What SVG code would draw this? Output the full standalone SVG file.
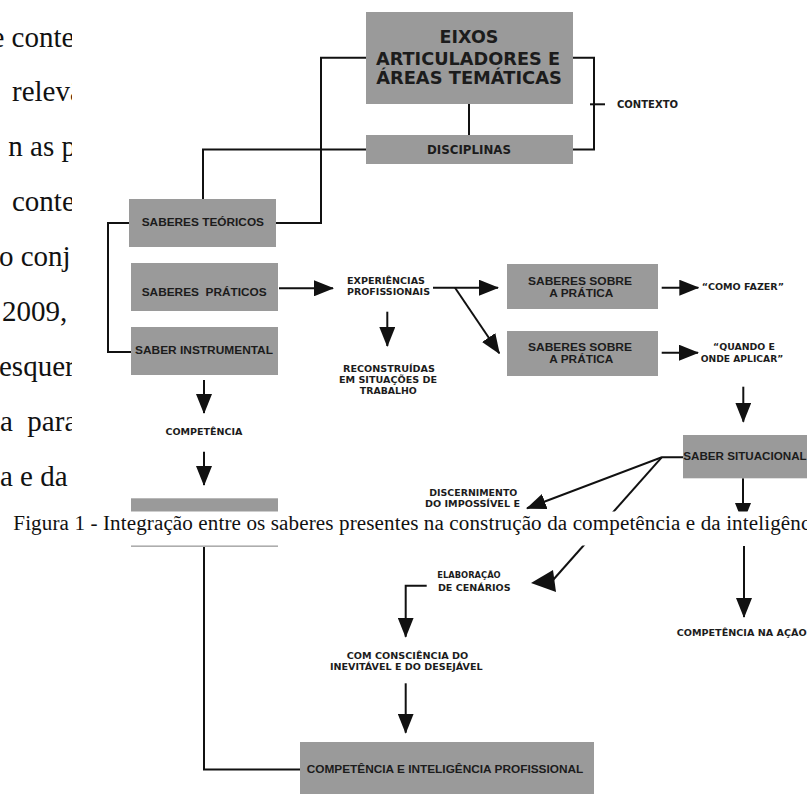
<svg xmlns="http://www.w3.org/2000/svg" width="807" height="794" viewBox="0 0 807 794">
<defs>
<style>
.box{fill:#9a9a9a;}
.ln{stroke:#111;stroke-width:2;fill:none;}
.bt{font-family:"Liberation Sans",Arial,sans-serif;font-weight:bold;fill:#1c1c1c;font-size:11.6px;}
.lb{font-family:"DejaVu Sans",Verdana,sans-serif;font-weight:bold;fill:#1c1c1c;}
.body{font-family:"Liberation Serif","Times New Roman",serif;fill:#111;font-size:29px;}
.cap{font-family:"Liberation Serif","Times New Roman",serif;fill:#111;font-size:21.1px;}
.c{text-anchor:middle;}
</style>
<marker id="ah" markerUnits="userSpaceOnUse" viewBox="0 0 20 16" markerWidth="20" markerHeight="16" refX="19" refY="8" orient="auto">
<path d="M0,0 L20,8 L0,16 z" fill="#111"/>
</marker>
<clipPath id="colclip"><rect x="0" y="0" width="72" height="794"/></clipPath>
</defs>
<rect width="807" height="794" fill="#fff"/>

<g id="bodytext" clip-path="url(#colclip)" class="body">
<text x="-8.5" y="46.5">e conte</text>
<text x="12" y="101.4">relevâ</text>
<text x="8.3" y="156.3">n as pr</text>
<text x="12" y="211.2">conten</text>
<text x="-1" y="266.1">o conj</text>
<text x="2" y="321">2009,</text>
<text x="-1" y="375.9">esquer</text>
<text x="0" y="430.8" xml:space="preserve">a  para</text>
<text x="0" y="485.7">a e da</text>
</g>

<g id="connectors">
<path class="ln" d="M366,57.7 H321 V223 H276"/>
<path class="ln" d="M366,149.5 H203 V199"/>
<path class="ln" d="M469,104 V135"/>
<path class="ln" d="M573,57.7 H594 V149.5 H573"/>
<path class="ln" d="M590,104.3 H605"/>
<path class="ln" d="M129,223 H108 V352 H131"/>
<path class="ln" d="M279,288.3 H333" marker-end="url(#ah)"/>
<path class="ln" d="M387.3,311.7 V346" marker-end="url(#ah)"/>
<path class="ln" d="M433,287.7 H498" marker-end="url(#ah)"/>
<path class="ln" d="M455,287.7 L499.3,353.3" marker-end="url(#ah)"/>
<path class="ln" d="M661.7,287.7 H698.3" marker-end="url(#ah)"/>
<path class="ln" d="M661.7,352.7 H698" marker-end="url(#ah)"/>
<path class="ln" d="M743.3,386.7 V421.7" marker-end="url(#ah)"/>
<path class="ln" d="M683,457.3 H661.7 L527,508.3" marker-end="url(#ah)"/>
<path class="ln" d="M661.7,457.3 L553,580"/>
<polygon points="531,583 553,570 556,592" fill="#111"/>
<path class="ln" d="M743,478.3 V522" marker-end="url(#ah)"/>
<path class="ln" d="M744,546 V617" marker-end="url(#ah)"/>
<path class="ln" d="M204,380 V413" marker-end="url(#ah)"/>
<path class="ln" d="M204,451.7 V485" marker-end="url(#ah)"/>
<path class="ln" d="M204,547 V769.5 H300"/>
<path class="ln" d="M426.7,585.7 H405.7 V636.7" marker-end="url(#ah)"/>
<path class="ln" d="M405.7,683.3 V732.7" marker-end="url(#ah)"/>
</g>

<g id="eixos">
<rect class="box" x="366" y="12" width="207" height="92"/>
<text class="lb c" x="469" y="42.7" font-size="17.5">EIXOS</text>
<text class="lb c" x="468" y="65" font-size="17.5" textLength="184" lengthAdjust="spacingAndGlyphs">ARTICULADORES E</text>
<text class="lb c" x="469" y="84.3" font-size="17.5" textLength="185.7" lengthAdjust="spacingAndGlyphs">ÁREAS TEMÁTICAS</text>
</g>
<g id="disciplinas">
<rect class="box" x="366" y="135" width="207" height="29"/>
<text class="lb c" x="469" y="153.5" font-size="11.5" textLength="84" lengthAdjust="spacingAndGlyphs">DISCIPLINAS</text>
</g>
<g id="contexto">
<text class="lb" x="617" y="108" font-size="10" textLength="61" lengthAdjust="spacingAndGlyphs">CONTEXTO</text>
</g>
<g id="saberes-teoricos">
<rect class="box" x="129" y="199" width="147" height="48"/>
<text class="bt" x="141.7" y="226" textLength="122.3" lengthAdjust="spacingAndGlyphs">SABERES TEÓRICOS</text>
</g>
<g id="saberes-praticos">
<rect class="box" x="131" y="263" width="147" height="48"/>
<text class="bt" x="141.7" y="295.5" textLength="125" lengthAdjust="spacingAndGlyphs" xml:space="preserve">SABERES  PRÁTICOS</text>
</g>
<g id="saber-instrumental">
<rect class="box" x="131" y="327" width="147" height="48"/>
<text class="bt" x="135" y="354" textLength="138" lengthAdjust="spacingAndGlyphs">SABER INSTRUMENTAL</text>
</g>
<g id="experiencias">
<text class="lb c" x="386" y="283.5" font-size="8.5" textLength="78" lengthAdjust="spacingAndGlyphs">EXPERIÊNCIAS</text>
<text class="lb c" x="388.5" y="294.5" font-size="8.5" textLength="83" lengthAdjust="spacingAndGlyphs">PROFISSIONAIS</text>
</g>
<g id="reconstruidas">
<text class="lb c" x="389" y="371.7" font-size="8.5" textLength="92" lengthAdjust="spacingAndGlyphs">RECONSTRUÍDAS</text>
<text class="lb c" x="388" y="382.7" font-size="8.5" textLength="98" lengthAdjust="spacingAndGlyphs">EM SITUAÇÕES DE</text>
<text class="lb c" x="388.3" y="394" font-size="8.5" textLength="57" lengthAdjust="spacingAndGlyphs">TRABALHO</text>
</g>
<g id="saberes-sobre-1">
<rect class="box" x="507" y="264" width="151" height="45"/>
<text class="bt c" x="580" y="285" textLength="104" lengthAdjust="spacingAndGlyphs">SABERES SOBRE</text>
<text class="bt c" x="581.3" y="296.7" textLength="64" lengthAdjust="spacingAndGlyphs">A PRÁTICA</text>
</g>
<g id="saberes-sobre-2">
<rect class="box" x="507" y="331" width="151" height="45"/>
<text class="bt c" x="580" y="351" textLength="104" lengthAdjust="spacingAndGlyphs">SABERES SOBRE</text>
<text class="bt c" x="581.3" y="362.7" textLength="64" lengthAdjust="spacingAndGlyphs">A PRÁTICA</text>
</g>
<g id="como-fazer">
<text class="lb" x="701.7" y="290" font-size="8.5" textLength="82.3" lengthAdjust="spacingAndGlyphs">“COMO FAZER”</text>
</g>
<g id="quando-onde">
<text class="lb c" x="744" y="350" font-size="8.5" textLength="62" lengthAdjust="spacingAndGlyphs">“QUANDO E</text>
<text class="lb c" x="742" y="361.7" font-size="8.5" textLength="82.6" lengthAdjust="spacingAndGlyphs">ONDE APLICAR”</text>
</g>
<g id="saber-situacional">
<rect class="box" x="683" y="435" width="124" height="43.3"/>
<text class="bt" x="683.3" y="459.5" textLength="123.4" lengthAdjust="spacingAndGlyphs">SABER SITUACIONAL</text>
</g>
<g id="competencia">
<text class="lb c" x="204" y="435" font-size="9" textLength="77" lengthAdjust="spacingAndGlyphs">COMPETÊNCIA</text>
</g>
<g id="saber-analisar">
<rect class="box" x="131" y="498.3" width="147" height="48.5"/>
<text class="bt" x="133" y="519.8" textLength="127" lengthAdjust="spacingAndGlyphs">“SABER ANALISAR”</text>
</g>
<g id="discernimento">
<text class="lb c" x="473.3" y="496" font-size="8.5" textLength="88" lengthAdjust="spacingAndGlyphs">DISCERNIMENTO</text>
<text class="lb c" x="472.5" y="507.3" font-size="8.5" textLength="95" lengthAdjust="spacingAndGlyphs">DO IMPOSSÍVEL E</text>
</g>
<g id="elaboracao">
<text class="lb c" x="469" y="578.3" font-size="8.5" textLength="63.4" lengthAdjust="spacingAndGlyphs">ELABORAÇÃO</text>
<text class="lb c" x="474.3" y="590.5" font-size="8.5" textLength="72.7" lengthAdjust="spacingAndGlyphs">DE CENÁRIOS</text>
</g>
<g id="consciencia">
<text class="lb c" x="407.5" y="659.3" font-size="8.5" textLength="121.6" lengthAdjust="spacingAndGlyphs">COM CONSCIÊNCIA DO</text>
<text class="lb c" x="406.3" y="670" font-size="8.5" textLength="152.7" lengthAdjust="spacingAndGlyphs">INEVITÁVEL E DO DESEJÁVEL</text>
</g>
<g id="competencia-acao">
<text class="lb" x="676.7" y="636" font-size="8.5" textLength="130" lengthAdjust="spacingAndGlyphs">COMPETÊNCIA NA AÇÃO</text>
</g>
<g id="competencia-inteligencia">
<rect class="box" x="300" y="742" width="294" height="60"/>
<text class="bt" x="306.7" y="772.7" textLength="276.6" lengthAdjust="spacingAndGlyphs">COMPETÊNCIA E INTELIGÊNCIA PROFISSIONAL</text>
</g>

<g id="caption">
<rect x="0" y="511.5" width="807" height="34" fill="#fff"/>
<text class="cap" x="13.3" y="530" textLength="797" lengthAdjust="spacing">Figura 1 - Integração entre os saberes presentes na construção da competência e da inteligênc</text>
</g>
</svg>
